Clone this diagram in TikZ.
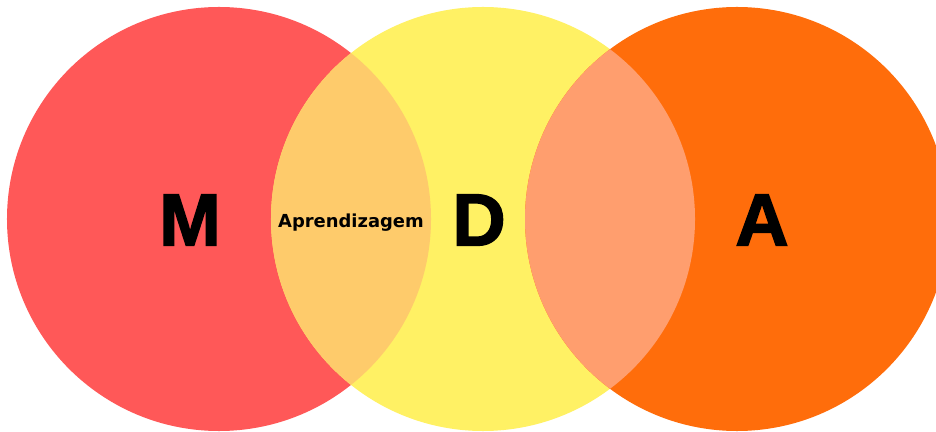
\documentclass[tikz,border=0pt]{standalone}
\usepackage{fontspec}
\setmainfont{DejaVu Sans}
\newfontfamily\letterfont[FakeBold=2]{Liberation Sans}
\usepackage{xcolor}
\usepackage{tikz}
\usetikzlibrary{positioning}

\definecolor{mred}{HTML}{FF5858}
\definecolor{dyellow}{HTML}{FFF164}
\definecolor{aorange}{HTML}{FF6D0B}
\definecolor{lensmd}{HTML}{FECB6B}
\definecolor{lensda}{HTML}{FF9E6E}

\begin{document}
\begin{tikzpicture}[
    x=0.03cm, y=-0.03cm,
    disc/.style={radius=6.36cm},
    big/.style={font=\letterfont\bfseries\fontsize{63}{63}\selectfont,
                inner sep=0pt},
    lbl/.style={font=\bfseries\fontsize{15.3}{16}\selectfont,
                inner sep=0pt},
]

% Frame
\fill[white] (0,0) rectangle (936,432);
\useasboundingbox (0,0) rectangle (936,432);

% Circle centres
\coordinate (cM) at (219,219);
\coordinate (cD) at (483,219);
\coordinate (cA) at (737,219);

% --- Circles ---
\fill[mred, disc]    (cM) circle;
\fill[dyellow, disc] (cD) circle;
\fill[aorange, disc] (cA) circle;

% --- Overlaps ---
\begin{scope}
  \clip[disc] (cM) circle;
  \fill[lensmd, disc] (cD) circle;
\end{scope}
\begin{scope}
  \clip[disc] (cD) circle;
  \fill[lensda, disc] (cA) circle;
\end{scope}

% --- Letters ---
\node[big] (m) at (190,220) {M};
\node[big] (d) at (479,220) {D};
\node[big] (a) at (762,220) {A};

\node[lbl] (learn) at (351,223) {Aprendizagem};

\end{tikzpicture}
\end{document}
